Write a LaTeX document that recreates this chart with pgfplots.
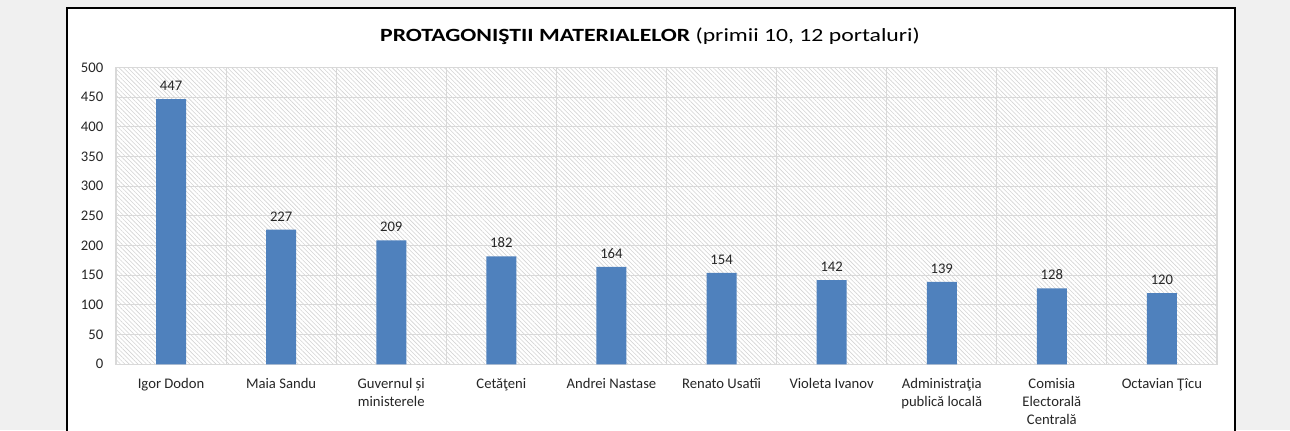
\documentclass[border=0pt]{standalone}
\usepackage{fontspec}
\setmainfont{Carlito}
\usepackage{pgfplots}
\pgfplotsset{compat=1.18}
\usetikzlibrary{patterns.meta}
\definecolor{bg}{HTML}{F0F0F0}
\definecolor{barblue}{HTML}{4F81BD}
\definecolor{gridc}{HTML}{D9D9D9}
\definecolor{hatchc}{HTML}{D4D4D4}
\begin{document}
\begin{tikzpicture}
\path[use as bounding box] (0pt,0pt) rectangle (967.5pt,322.5pt);
\fill[bg] (0pt,0pt) rectangle (967.5pt,322.5pt);
\fill[white] (50.25pt,0pt) rectangle (926.25pt,316.5pt);
\draw[line width=1.2pt] (50.25pt,-3pt) -- (50.25pt,316.5pt) -- (926.25pt,316.5pt) -- (926.25pt,-3pt);
\node[font=\fontsize{14}{16}\selectfont] at (487.5pt,295.5pt) {\scalebox{1.27}[1]{\textbf{PROTAGONIŞTII MATERIALELOR} (primii 10, 12 portaluri)}};
\begin{axis}[
  at={(87pt,49.3pt)}, anchor=south west,
  scale only axis, width=825.75pt, height=222.5pt,
  xmin=-0.5, xmax=9.5, ymin=0, ymax=500,
  ytick={0,50,...,500},
  xtick={0,...,9},
  xticklabels={Igor Dodon, Maia Sandu, Guvernul și\\ministerele, Cetăţeni, Andrei Nastase, Renato Usatîi, Violeta Ivanov, Administraţia\\publică locală, Comisia\\Electorală\\Centrală, Octavian Ţîcu},
  minor xtick={-0.5,0.5,...,9.5},
  xminorgrids, ymajorgrids,
  major grid style={gridc, line width=0.8pt},
  minor grid style={gridc, line width=0.8pt},
  axis line style={gridc, line width=0.8pt},
  major tick length=0pt, minor tick length=0pt,
  tick style={draw=none},
  axis background/.style={fill=white, postaction={pattern={Lines[angle=-45,distance=2.3pt,line width=0.45pt]}, pattern color=hatchc}},
  ybar, bar width=22.5pt,
  nodes near coords,
  nodes near coords style={font=\fontsize{11}{13}\selectfont, text=black!85, /pgf/number format/assume math mode=true, inner sep=1pt, yshift=5pt},
  ticklabel style={font=\fontsize{11}{13.5}\selectfont, text=black!85},
  xticklabel style={align=center, anchor=north, yshift=-7pt},
  yticklabel style={xshift=-6pt},
  /pgf/number format/assume math mode=true,
  /pgf/number format/1000 sep={},
]
\addplot[fill=barblue, draw=none] coordinates {(0,447) (1,227) (2,209) (3,182) (4,164) (5,154) (6,142) (7,139) (8,128) (9,120)};
\end{axis}
\end{tikzpicture}
\end{document}
